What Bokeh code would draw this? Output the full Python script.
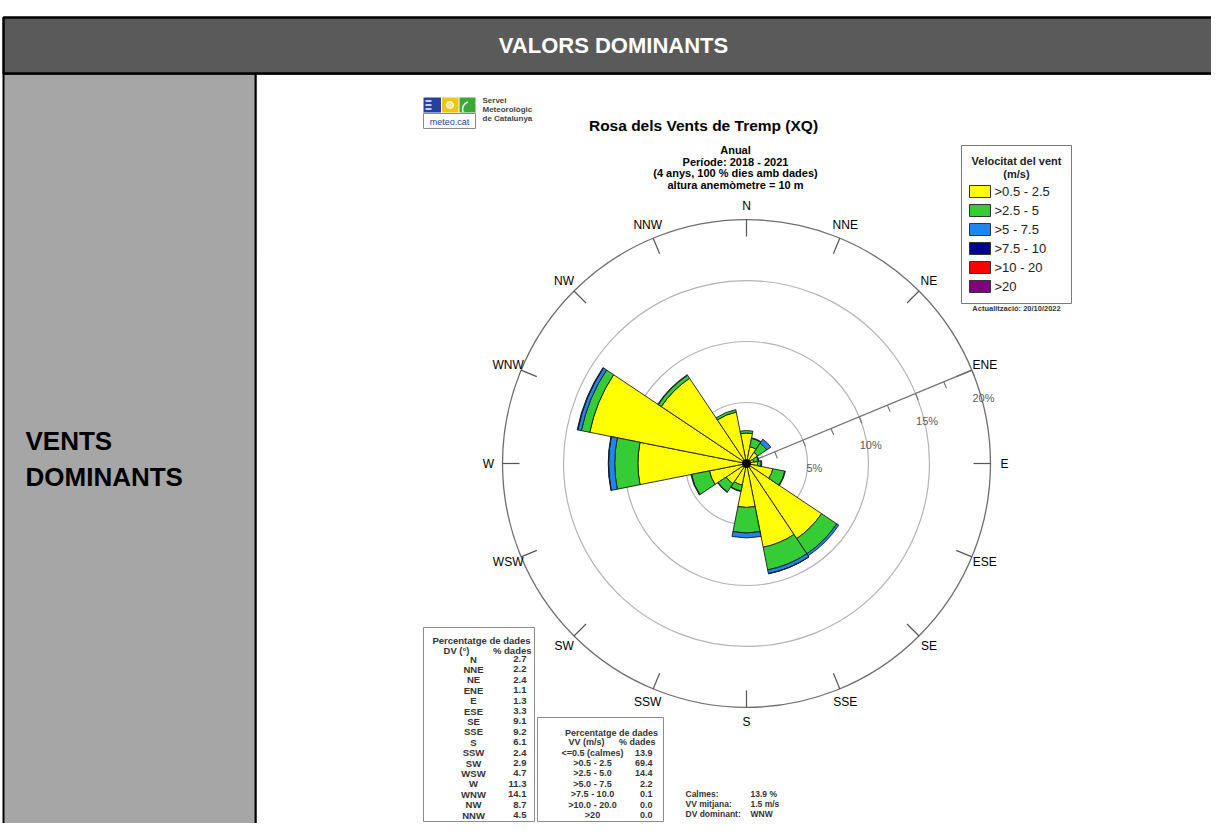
import numpy as np
from bokeh.plotting import figure
from bokeh.models import Range1d, ColumnDataSource
from bokeh.core.properties import value
from bokeh.embed import file_html
from bokeh.resources import INLINE

# ---------------- data ----------------
dirs = ["N", "NNE", "NE", "ENE", "E", "ESE", "SE", "SSE",
        "S", "SSW", "SW", "WSW", "W", "WNW", "NW", "NNW"]
pct_dir = [2.7, 2.2, 2.4, 1.1, 1.3, 3.3, 9.1, 9.2, 6.1, 2.4, 2.9, 4.7, 11.3, 14.1, 8.7, 4.5]
# per-direction percentage by speed class (estimated from the petals)
spd_05_25 = [2.5, 1.4, 1.1, 0.6, 0.9, 2.2, 7.4, 7.0, 3.6, 1.8, 2.0, 3.1, 8.9, 13.1, 8.4, 4.3]
spd_25_5 = [0.2, 0.7, 0.9, 0.4, 0.3, 1.0, 1.5, 1.9, 2.1, 0.5, 0.8, 1.5, 1.9, 0.7, 0.3, 0.2]
spd_5_75 = [0.0, 0.05, 0.4, 0.05, 0.05, 0.05, 0.2, 0.3, 0.4, 0.05, 0.05, 0.05, 0.5, 0.3, 0.05, 0.0]
spd_75_10 = [0.0, 0.0, 0.0, 0.0, 0.0, 0.0, 0.0, 0.02, 0.0, 0.0, 0.0, 0.0, 0.03, 0.05, 0.0, 0.0]
spd_10_20 = [0.0] * 16
spd_20 = [0.0] * 16

class_labels = [">0.5 - 2.5", ">2.5 - 5", ">5 - 7.5", ">7.5 - 10", ">10 - 20", ">20"]
class_colors = ["#ffff00", "#35cc35", "#1f86f0", "#000090", "#ff0000", "#800080"]

vv_labels = ["<=0.5 (calmes)", ">0.5 - 2.5", ">2.5 - 5.0", ">5.0 - 7.5",
             ">7.5 - 10.0", ">10.0 - 20.0", ">20"]
vv_pct = [13.9, 69.4, 14.4, 2.2, 0.1, 0.0, 0.0]

ring_ticks = [5, 10, 15, 20]
axis_ticks = [2.5, 5, 7.5, 10, 12.5, 15, 17.5, 20]

title = "Rosa dels Vents de Tremp (XQ)"
subtitle = ["Anual", "Període: 2018 - 2021", "(4 anys, 100 % dies amb dades)",
            "altura anemòmetre = 10 m"]
summary_labels = ["Calmes:", "VV mitjana:", "DV dominant:"]
summary_values = ["13.9 %", "1.5 m/s", "WNW"]

# ---------------- figure ----------------
W, H = 1211, 823
p = figure(width=W, height=H, x_range=Range1d(0, W), y_range=Range1d(0, H),
           output_backend="svg", toolbar_location=None, min_border=0,
           x_axis_location=None, y_axis_location=None)
p.grid.visible = False
p.outline_line_color = None
p.background_fill_color = "white"
p.border_fill_color = "white"


def Y(sy):
    return H - sy


FONT = value("Liberation Sans")


def txt(xs, ys, texts, size, bold=False, color="black", align="center", baseline="middle"):
    p.text(x=list(xs), y=[Y(v) for v in ys], text=list(texts), text_font=FONT,
           text_font_size=size, text_font_style="bold" if bold else "normal",
           text_color=color, text_align=align, text_baseline=baseline)


# ---------------- page layout (table cells) ----------------
p.quad(left=[255], right=[1225], top=[Y(73)], bottom=[Y(845)], fill_color="white",
       line_color="black", line_width=2)
p.quad(left=[3], right=[255], top=[Y(73)], bottom=[Y(845)], fill_color="#a6a6a6",
       line_color="black", line_width=2)
p.quad(left=[3], right=[1225], top=[Y(17)], bottom=[Y(73)], fill_color="#5a5a5a",
       line_color="black", line_width=2.5)
txt([613], [45], ["VALORS DOMINANTS"], "22px", bold=True, color="white")
txt([25, 25], [440, 476], ["VENTS", "DOMINANTS"], "26px", bold=True, align="left")

# ---------------- wind rose ----------------
CX, CY = 746.0, Y(463)
K = 12.2  # px per percent
half = 11.25
bearing = np.arange(16) * 22.5

# reference rings
p.circle(x=[CX] * 3, y=[CY] * 3, radius=[r * K for r in ring_ticks[:3]],
         fill_color=None, line_color="#b4b4b4", line_width=1.2)
p.circle(x=[CX], y=[CY], radius=[ring_ticks[-1] * K], fill_color=None,
         line_color="#6e6e6e", line_width=1.3)

# direction ticks on outer circle
th = np.radians(bearing)
r_out = ring_ticks[-1] * K
p.segment(x0=CX + r_out * np.sin(th), y0=CY + r_out * np.cos(th),
          x1=CX + (r_out - 17) * np.sin(th), y1=CY + (r_out - 17) * np.cos(th),
          line_color="#555555", line_width=1.2)

# ENE scale axis with ticks
ax_b = np.radians(67.5)
ux, uy = np.sin(ax_b), np.cos(ax_b)
px_, py_ = np.cos(ax_b), -np.sin(ax_b)  # clockwise perpendicular
p.segment(x0=[CX], y0=[CY], x1=[CX + r_out * ux], y1=[CY + r_out * uy],
          line_color="#707070", line_width=1.2)
at = np.array(axis_ticks) * K
p.segment(x0=CX + at * ux, y0=CY + at * uy, x1=CX + at * ux + 7 * px_,
          y1=CY + at * uy + 7 * py_, line_color="#707070", line_width=1.1)
rt = np.array(ring_ticks) * K
p.text(x=list(CX + rt * ux + 30 * px_), y=list(CY + rt * uy + 30 * py_),
       text=[f"{v}%" for v in ring_ticks], text_font=FONT, text_font_size="11px",
       text_color="#5a5a5a", text_align="center", text_baseline="middle")

# petals (stacked speed classes)
classes = [spd_05_25, spd_25_5, spd_5_75, spd_75_10, spd_10_20, spd_20]
cum = np.zeros(16)
wx, wy, wi, wo, ws, we, wc = [], [], [], [], [], [], []
for vals, col in zip(classes, class_colors):
    v = np.array(vals)
    for i in range(16):
        if v[i] > 0:
            wx.append(CX)
            wy.append(CY)
            wi.append(cum[i] * K)
            wo.append((cum[i] + v[i]) * K)
            ws.append(np.radians(90 - bearing[i] - half))
            we.append(np.radians(90 - bearing[i] + half))
            wc.append(col)
    cum = cum + v
src = ColumnDataSource(dict(x=wx, y=wy, inner=wi, outer=wo, start=ws, end=we, color=wc))
p.annular_wedge(x="x", y="y", inner_radius="inner", outer_radius="outer",
                start_angle="start", end_angle="end", fill_color="color",
                line_color="#1a1a1a", line_width=0.9, source=src)
p.circle(x=[CX], y=[CY], radius=[4], fill_color="black", line_color="black")

# direction labels
r_lab = 258
p.text(x=list(CX + r_lab * np.sin(th)), y=list(CY + r_lab * np.cos(th)), text=dirs,
       text_font=FONT, text_font_size="12px", text_color="black",
       text_align="center", text_baseline="middle")

# ---------------- titles ----------------
txt([703], [125], [title], "15.5px", bold=True)
txt([735] * 4, [149, 161, 172.5, 184], subtitle, "11px", bold=True)

# logo
p.quad(left=[423, 441.5, 459], right=[440.5, 458, 475], top=[Y(97)] * 3,
       bottom=[Y(112)] * 3, fill_color=["#2740a0", "#f0c419", "#3aa935"], line_color=None)
p.segment(x0=[425] * 3, y0=[Y(100.5), Y(104.5), Y(108.5)], x1=[431] * 3,
          y1=[Y(100.5), Y(104.5), Y(108.5)], line_color="white", line_width=1.5)
p.circle(x=[449.5], y=[Y(104.5)], radius=[3.5], fill_color="#ffe680", line_color="white",
         line_width=1)
p.arc(x=[470], y=[Y(109)], radius=[8], start_angle=np.radians(110),
      end_angle=np.radians(200), line_color="white", line_width=1.5)
p.quad(left=[423], right=[475], top=[Y(113)], bottom=[Y(128)], fill_color="white",
       line_color="#8a8a8a", line_width=1)
txt([449], [121], ["meteo.cat"], "9px", color="#1d3f8f")
txt([482] * 3, [100, 109, 118], ["Servei", "Meteorològic", "de Catalunya"], "8px",
    bold=True, color="#444444", align="left")

# ---------------- legend ----------------
p.quad(left=[961], right=[1071], top=[Y(145)], bottom=[Y(303)], fill_color="white",
       line_color="#7a7a7a", line_width=1)
txt([1016, 1016], [160, 173], ["Velocitat del vent", "(m/s)"], "11px", bold=True,
    color="#222222")
ly = [191 + 19 * i for i in range(len(class_labels))]
p.quad(left=[969] * 6, right=[990] * 6, top=[Y(v - 6) for v in ly],
       bottom=[Y(v + 6) for v in ly], fill_color=class_colors, line_color="#333333",
       line_width=1)
txt([994] * 6, ly, class_labels, "13px", align="left", color="#222222")
txt([1016], [308], ["Actualització: 20/10/2022"], "7.5px", bold=True, color="#333333")

# ---------------- direction table ----------------
p.quad(left=[423], right=[534], top=[Y(627)], bottom=[Y(821)], fill_color="white",
       line_color="#8c8c8c", line_width=1)
txt([481], [640], ["Percentatge de dades"], "9.5px", bold=True, color="#333333")
txt([456], [650], ["DV (°)"], "9.5px", bold=True, color="#333333")
txt([531], [650], ["% dades"], "9.5px", bold=True, color="#333333", align="right")
rows = [658.5 + 10.4 * i for i in range(16)]
txt([473] * 16, rows, dirs, "9.5px", bold=True, color="#333333")
txt([526] * 16, rows, [f"{v:.1f}" for v in pct_dir], "9.5px", bold=True,
    color="#333333", align="right")

# ---------------- speed table ----------------
p.quad(left=[537], right=[663], top=[Y(717)], bottom=[Y(821)], fill_color="white",
       line_color="#8c8c8c", line_width=1)
txt([611], [732], ["Percentatge de dades"], "9px", bold=True, color="#333333")
txt([568], [741], ["VV (m/s)"], "9px", bold=True, color="#333333", align="left")
txt([655], [741], ["% dades"], "9px", bold=True, color="#333333", align="right")
vrows = [752 + 10.4 * i for i in range(len(vv_labels))]
txt([592] * 7, vrows, vv_labels, "9px", bold=True, color="#333333")
txt([652] * 7, vrows, [f"{v:.1f}" for v in vv_pct], "9px", bold=True, color="#333333",
    align="right")

# ---------------- summary ----------------
srows = [793, 803, 813]
txt([685] * 3, srows, summary_labels, "8.5px", bold=True, color="#333333", align="left")
txt([750] * 3, srows, summary_values, "8.5px", bold=True, color="#333333", align="left")

open("out.html", "w").write(file_html(p, INLINE))
